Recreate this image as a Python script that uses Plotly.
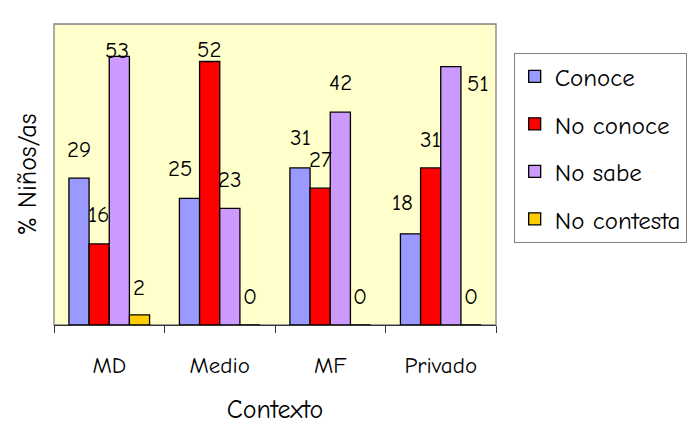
import plotly.graph_objects as go

categories = ["MD", "Medio", "MF", "Privado"]
series_names = ["Conoce", "No conoce", "No sabe", "No contesta"]
conoce = [29, 25, 31, 18]
no_conoce = [16, 52, 27, 31]
no_sabe = [53, 23, 42, 51]
no_contesta = [2, 0, 0, 0]
values = [conoce, no_conoce, no_sabe, no_contesta]

colors = ["#9999FF", "#FF0000", "#CC99FF", "#FFCC00"]
FONT = "Comic Sans MS, Comic Neue, Noto Sans, sans-serif"
FS = 23

# label shifts in px (style only): per series, per category
label_dx = [[0, -9, 0, -8], [0, 0, 0, 0], [-2, 0, 0, 27], [0, 0, 0, 0]]
label_dy = [[29, 30, 30, 31], [29, 12, 29, 28], [6, 29, 30, -17], [27, 29, 29, 29]]
bar_offsets = [-30, -10, 10, 30]

fig = go.Figure()
for i, name in enumerate(series_names):
    fig.add_trace(go.Bar(
        x=categories, y=values[i], name=name,
        marker=dict(color=colors[i], line=dict(color="black", width=1.3)),
        legendgroup=name,
    ))

annotations = []
for i in range(len(series_names)):
    for j, cat in enumerate(categories):
        annotations.append(dict(
            x=cat, y=values[i][j], xref="x", yref="y",
            text=str(values[i][j]), showarrow=False,
            xshift=bar_offsets[i] + label_dx[i][j], yshift=label_dy[i][j],
            font=dict(family=FONT, size=FS, color="black"),
            xanchor="center", yanchor="middle",
        ))

fig.update_layout(
    width=695, height=427,
    margin=dict(l=46, r=207, t=16, b=110),
    paper_bgcolor="white", plot_bgcolor="#FFFFCC",
    barmode="group", bargap=0.27, bargroupgap=0,
    font=dict(family=FONT, size=FS, color="black"),
    showlegend=True,
    legend=dict(
        x=1.04, y=0.905, xanchor="left", yanchor="top",
        bordercolor="#808080", borderwidth=1, bgcolor="white",
        font=dict(family=FONT, size=25), tracegroupgap=12,
        itemwidth=30,
    ),
    annotations=annotations,
    shapes=[dict(type="rect", xref="paper", yref="paper", x0=0, x1=1, y0=0, y1=1,
                 line=dict(color="#808080", width=1.3), layer="below")],
)
fig.update_xaxes(
    automargin=False,
    showline=True, linecolor="#333333", linewidth=1.3,
    ticks="outside", tickson="boundaries", ticklen=7, tickcolor="#333333",
    ticklabelstandoff=19,
    title=dict(text="Contexto", standoff=22, font=dict(family=FONT, size=26)),
    tickfont=dict(family=FONT, size=FS),
)
fig.update_yaxes(
    automargin=False,
    range=[0, 59.4], showticklabels=False, showgrid=False, zeroline=False,
    ticks="", title=dict(text="% Niños/as", standoff=8, font=dict(family=FONT, size=26)),
)
fig.write_html("out.html")
